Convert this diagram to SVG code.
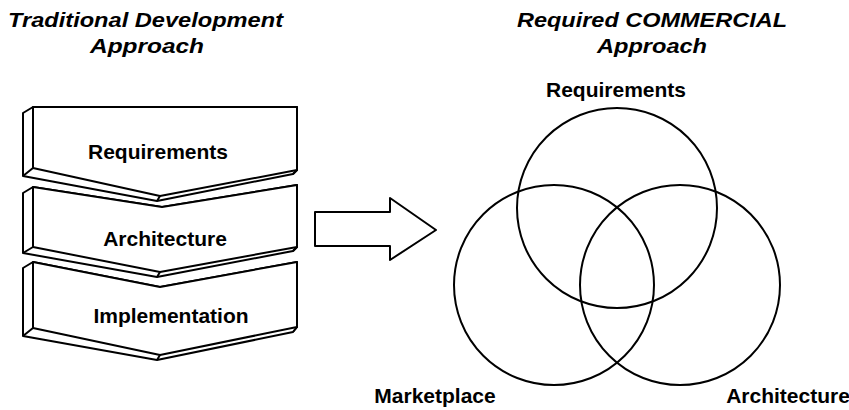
<svg xmlns="http://www.w3.org/2000/svg" width="849" height="410" viewBox="0 0 849 410">
<style>
.t{font-family:"Liberation Sans",Arial,sans-serif;font-weight:bold;fill:#000}
.ti{font-style:italic;font-size:20px}
.lb{font-size:21px}
.sh{fill:#fff;stroke:#000;stroke-width:2;stroke-linejoin:round}
.ln{fill:none;stroke:#000;stroke-width:2}
</style>
<rect width="849" height="410" fill="#fff"/>
<g id="title-left">
<text class="t ti" x="8" y="27" textLength="275" lengthAdjust="spacingAndGlyphs">Traditional Development</text>
<text class="t ti" x="90" y="53" textLength="114" lengthAdjust="spacingAndGlyphs">Approach</text>
</g>
<g id="title-right">
<text class="t ti" x="517" y="27" textLength="270" lengthAdjust="spacingAndGlyphs">Required COMMERCIAL</text>
<text class="t ti" x="597" y="53" textLength="110" lengthAdjust="spacingAndGlyphs">Approach</text>
</g>
<g id="chevron-implementation">
<polygon class="sh" points="23,268 33,262 160,287 297,262 297,327 293,332 157,360 23,336"/>
<polygon class="sh" points="33,262 160,287 297,262 297,327 160,355 33,328"/>
<path class="ln" d="M33,328 L23,336 M160,355 L157,360 M297,327 L293,332"/>
<text class="t lb" x="171" y="323" text-anchor="middle">Implementation</text>
</g>
<g id="chevron-architecture">
<polygon class="sh" points="23,193 33,187 162,207 297,185 297,247 293,251 157,277 23,253"/>
<polygon class="sh" points="33,187 162,207 297,185 297,247 160,272 33,247"/>
<path class="ln" d="M33,247 L23,253 M160,272 L157,277 M297,247 L293,251"/>
<text class="t lb" x="165" y="246" text-anchor="middle">Architecture</text>
</g>
<g id="chevron-requirements">
<polygon class="sh" points="23,113 33,107 297,107 297,170 293,174 157,201 23,176"/>
<polygon class="sh" points="33,107 297,107 297,170 160,196 33,168"/>
<path class="ln" d="M33,168 L23,176 M160,196 L157,201 M297,170 L293,174"/>
<text class="t lb" x="158" y="159" text-anchor="middle">Requirements</text>
</g>
<g id="connectors">
<polygon class="sh" points="315,212 390,212 390,198 436,230 390,260 390,246 315,246"/>
</g>
<g id="circle-requirements">
<circle class="ln" cx="617" cy="208" r="100"/>
<text class="t lb" x="616" y="97" text-anchor="middle">Requirements</text>
</g>
<g id="circle-marketplace">
<circle class="ln" cx="554" cy="285" r="100"/>
<text class="t lb" x="435" y="403" text-anchor="middle">Marketplace</text>
</g>
<g id="circle-architecture">
<circle class="ln" cx="680" cy="285" r="100"/>
<text class="t lb" x="788" y="403" text-anchor="middle">Architecture</text>
</g>
</svg>
